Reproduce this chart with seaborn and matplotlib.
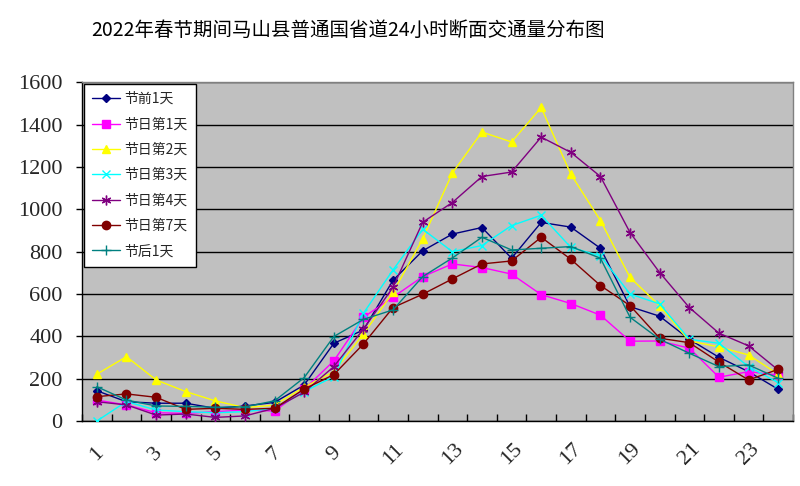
import matplotlib
matplotlib.use("Agg")
import matplotlib.pyplot as plt
import seaborn as sns

# ---------------- data ----------------
hours = list(range(1, 25))
series_names = ["节前1天", "节日第1天", "节日第2天", "节日第3天", "节日第4天", "节日第7天", "节后1天"]

pre_day1 = [143, 91, 84, 84, 60, 71, 88, 170, 367, 430, 665, 804, 883, 914, 769, 938, 916, 816, 540, 495, 386, 301, 233, 150]
fest_day1 = [99, 76, 39, 36, 44, 52, 47, 150, 284, 490, 585, 682, 742, 725, 694, 597, 555, 500, 377, 378, 344, 207, 233, 217]
fest_day2 = [221, 304, 194, 139, 95, 63, 75, 160, 233, 411, 608, 860, 1171, 1365, 1318, 1481, 1166, 947, 678, 544, 378, 350, 312, 221]
fest_day3 = [0, 92, 52, 44, 39, 44, 60, 139, 210, 509, 714, 906, 800, 829, 923, 972, 820, 780, 600, 553, 386, 367, 257, 181]
fest_day4 = [91, 76, 28, 33, 17, 24, 60, 136, 257, 434, 632, 939, 1032, 1155, 1176, 1341, 1269, 1155, 890, 701, 536, 415, 355, 241]
fest_day7 = [115, 128, 112, 55, 60, 55, 60, 151, 219, 364, 536, 599, 671, 742, 756, 868, 764, 640, 545, 391, 370, 278, 194, 244]
post_day1 = [162, 99, 71, 69, 65, 67, 95, 205, 399, 480, 525, 682, 770, 868, 808, 816, 824, 769, 490, 386, 320, 257, 265, 202]

series_values = [pre_day1, fest_day1, fest_day2, fest_day3, fest_day4, fest_day7, post_day1]
y_ticks = [0, 200, 400, 600, 800, 1000, 1200, 1400, 1600]
x_tick_labels = [str(h) for h in hours if h % 2 == 1]
title = "2022年春节期间马山县普通国省道24小时断面交通量分布图"

# ---------------- style ----------------
colors = ["#000080", "#FF00FF", "#FFFF00", "#00FFFF", "#800080", "#800000", "#008080"]
markers = ["D", "s", "^", "x", (6, 2, 0), "o", "+"]
msizes = [4.5, 6, 6, 6, 7, 6, 7]

sns.set_style("white")
plt.rcParams["font.family"] = ["Noto Sans CJK SC", "DejaVu Sans"]

fig = plt.figure(figsize=(8, 4.86), dpi=100)
ax = fig.add_axes([82 / 800, 1 - 421 / 486, (793 - 82) / 800, (421 - 82.3) / 486])
ax.set_facecolor("#C0C0C0")

for name, vals, c, m, ms in zip(series_names, series_values, colors, markers, msizes):
    sns.lineplot(x=hours, y=vals, ax=ax, color=c, marker=m, markersize=ms,
                 markeredgecolor=c, markerfacecolor=c, markeredgewidth=1.0,
                 linewidth=1.0, label=name, zorder=3)

ax.set_xlim(0.5, 24.5)
ax.set_ylim(0, 1600)
ax.set_yticks(y_ticks)
ax.set_yticklabels([str(v) for v in y_ticks], family=["Liberation Serif"], fontsize=16)
ax.yaxis.grid(True, color="black", linewidth=1.0, zorder=1)
ax.set_axisbelow(True)
ax.tick_params(axis="y", direction="out", length=4, width=1, color="black", pad=10, left=True)

odd = [h for h in hours if h % 2 == 1]
ax.set_xticks(odd)
ax.set_xticklabels(x_tick_labels, family=["Liberation Serif"], fontsize=16,
                   rotation=45, ha="center", va="center")
ax.set_xticks([h + 0.5 for h in range(0, 25)], minor=True)
ax.tick_params(axis="x", which="major", length=0, pad=24, bottom=True)
ax.tick_params(axis="x", which="minor", direction="in", length=5, width=1, color="black", bottom=True)

ax.set_xlabel("")
ax.set_ylabel("")

for side in ["left", "bottom"]:
    ax.spines[side].set_color("black")
    ax.spines[side].set_linewidth(1.0)
for side in ["top", "right"]:
    ax.spines[side].set_color("#808080")
    ax.spines[side].set_linewidth(1.0)

leg = ax.legend(loc="upper left", bbox_to_anchor=(0.003, 0.996), frameon=True, fancybox=False,
                edgecolor="black", facecolor="white", framealpha=1, fontsize=10,
                handlelength=2.0, handletextpad=0.3, labelspacing=0.82, borderpad=0.6,
                borderaxespad=0)
leg.get_frame().set_linewidth(1.0)

fig.text(348 / 800, 1 - 30 / 486, title, ha="center", va="center", fontsize=14, color="black")

fig.savefig("out.png", dpi=100)
